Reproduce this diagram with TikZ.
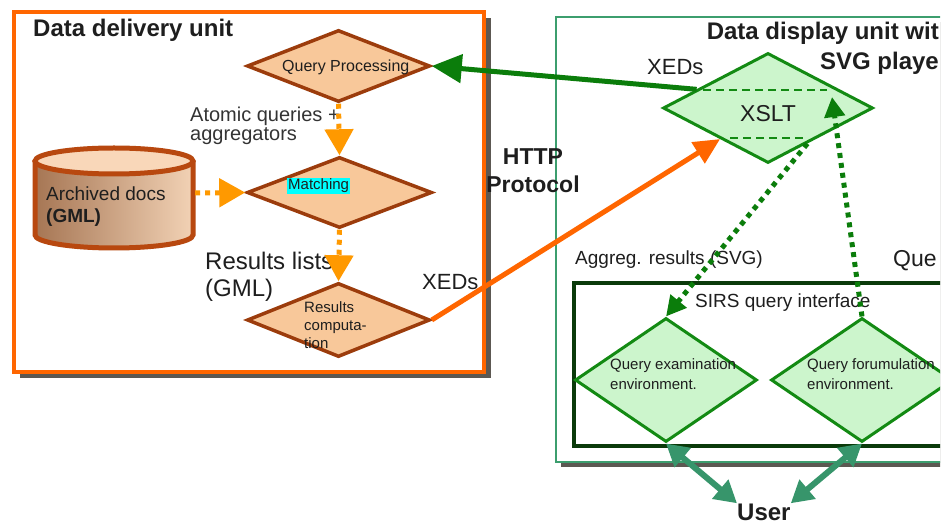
\documentclass[tikz,border=0pt]{standalone}
\usepackage{fontspec}
\setmainfont{Liberation Sans}
\usetikzlibrary{shapes.geometric,arrows.meta,calc}
\definecolor{txtc}{HTML}{1E1E1E}
\definecolor{dbrown}{HTML}{9C3C0C}
\definecolor{peach}{HTML}{F8C89A}
\definecolor{lorange}{HTML}{FF9900}
\definecolor{oline}{HTML}{FF6600}
\definecolor{shadowc}{HTML}{5C5852}
\definecolor{gbox}{HTML}{3C9E6E}
\definecolor{ibox}{HTML}{0A3A0A}
\definecolor{dgreen}{HTML}{138A13}
\definecolor{lgreen}{HTML}{CCF5CC}
\definecolor{garrow}{HTML}{0B7D0B}
\definecolor{tealc}{HTML}{37956B}
\definecolor{cylb}{HTML}{B8480F}
\definecolor{cyltop}{HTML}{F9D7B9}
\definecolor{cylL}{HTML}{A67654}
\definecolor{cylM}{HTML}{E8C3A2}
\definecolor{cylR}{HTML}{F2D2B5}
\definecolor{cyanbg}{RGB}{0,255,255}
\newcommand\fsz[1]{\fontsize{#1}{#1}\selectfont}
\begin{document}
\begin{tikzpicture}[x=1pt,y=-1pt,
  ddiam/.style={diamond, draw=dbrown, fill=peach, line width=3.5pt, inner sep=0pt},
  gdiam/.style={diamond, draw=dgreen, fill=lgreen, line width=3pt, inner sep=0pt},
  txt/.style={inner sep=0pt, anchor=base west, text=txtc},
  txte/.style={inner sep=0pt, anchor=base east, text=txtc},
  odot/.style={draw=lorange, line width=5pt, dash pattern=on 5pt off 5pt,
    -{Triangle[length=26pt,width=28pt,fill=lorange]}},
  gdot/.style={draw=garrow, line width=5pt, dash pattern=on 5pt off 5pt,
    -{Triangle[length=20pt,width=20pt]}},
  gsolid/.style={draw=garrow, line width=5pt, -{Triangle[length=30pt,width=28pt]}},
  osolid/.style={draw=oline, line width=5pt, -{Triangle[length=26pt,width=24pt]}},
  tealarr/.style={draw=tealc, line width=6pt,
    {Triangle[length=22pt,width=24pt]}-{Triangle[length=22pt,width=24pt]}},
  xdash/.style={draw=dgreen, line width=2.5pt, dash pattern=on 8pt off 5pt}]
\useasboundingbox (0,0) rectangle (948,526);
\clip (0,0) rectangle (940,526);

% ---- containers
\fill[shadowc] (20,18) rectangle (491,378);
\draw[oline, line width=3.5pt, fill=white] (14,12) rectangle (484,372);
\fill[shadowc] (561,22) rectangle (960,467);
\draw[gbox, line width=2.5pt, fill=white] (556,17) rectangle (960,462);
\draw[ibox, line width=4.5pt, fill=white] (574,283) rectangle (960,446);

% ---- titles
\node[txt, font=\bfseries\fsz{24}] (t1) at (33,37) {Data delivery unit};
\node[txte, font=\bfseries\fsz{24}] (t2a) at (939,40) {Data display unit wit};
\node[txte, font=\bfseries\fsz{24}] (t2b) at (939,70) {SVG playe};

% ---- cylinder
\shade[left color=cylL, middle color=cylM, right color=cylR]
  (35,161) -- (35,235) arc[start angle=180, end angle=0, x radius=79, y radius=13] -- (193,161) -- cycle;
\draw[cylb, line width=5pt] (35,161) -- (35,235) arc[start angle=180, end angle=0, x radius=79, y radius=13] -- (193,161);
\draw[cylb, line width=5pt, fill=cyltop] (114,161) ellipse[x radius=79, y radius=13];
\node[minimum width=162pt, minimum height=90pt, inner sep=0pt] (arch) at (114,193) {};
\node[txt, font=\fsz{19}] (a1) at (46,201) {Archived docs};
\node[txt, font=\bfseries\fsz{19}] (a2) at (46,223) {(GML)};

% ---- left diamonds
\node[ddiam, minimum width=183pt, minimum height=72pt] (qp) at (338.5,66) {};
\node[ddiam, minimum width=185pt, minimum height=71pt] (match) at (339.5,192.5) {};
\node[ddiam, minimum width=183pt, minimum height=74pt] (res) at (338.5,320) {};
\node[txt, font=\fsz{16}] (qpt) at (282,72) {Query Processing};
\node[txt, font=\fsz{15}, fill=cyanbg, inner sep=1pt] (mt) at (287,190) {Matching};
\node[txt, font=\fsz{15}] (r1) at (304,313) {Results};
\node[txt, font=\fsz{15}] (r2) at (304,331) {computa-};
\node[txt, font=\fsz{15}] (r3) at (304,349) {tion};

% ---- left labels
\node[txt, font=\fsz{20}, text=black!80] (l1) at (190,122) {Atomic queries +};
\node[txt, font=\fsz{20}, text=black!80] (l2) at (190,141) {aggregators};
\node[txt, font=\fsz{24}] (l3) at (205,270) {Results lists};
\node[txt, font=\fsz{24}] (l4) at (205,297) {(GML)};
\node[txt, font=\fsz{22}] (x1) at (422,290) {XEDs};
\node[inner sep=0pt, anchor=base, text=txtc, font=\bfseries\fsz{23}] (h1) at (533,165) {HTTP};
\node[inner sep=0pt, anchor=base, text=txtc, font=\bfseries\fsz{23}] (h2) at (533,193) {Protocol};

% ---- right side nodes
\node[gdiam, minimum width=210pt, minimum height=110pt] (xslt) at (768,108) {};
\draw[xdash] (703,90) -- (827,90);
\draw[xdash] (730,138) -- (805,138);
\node[txt, font=\fsz{23}] (xt) at (740,122) {XSLT};
\node[txt, font=\fsz{22}] (x2) at (647,75) {XEDs};

\node[txt, font=\fsz{19}] (ag) at (575,265) {Aggreg. results (SVG)};
\node[txt, font=\fsz{23}] (qu) at (893,267) {Que};
\node[txt, font=\fsz{19}] (sirs) at (695,308) {SIRS query interface};

\node[gdiam, minimum width=182pt, minimum height=124pt] (qexam) at (666,380) {};
\node[gdiam, minimum width=182pt, minimum height=124pt] (qform) at (862,380) {};
\node[txt, font=\fsz{15}] (qe1) at (610,370) {Query examination};
\node[txt, font=\fsz{15}] (qe2) at (610,390) {environment.};
\node[txt, font=\fsz{15}] (qf1) at (807,370) {Query forumulation};
\node[txt, font=\fsz{15}] (qf2) at (807,390) {environment.};

\node[txt, font=\bfseries\fsz{24}] (user) at (737,520) {User};

% ---- connectors
\draw[odot] (qp.south) -- (match.north);
\draw[odot] (arch.east) -- (match.west);
\draw[odot] (match.south) -- (res.north);
\draw[gsolid] ($(xslt.west)!0.33!(xslt.north)$) -- (qp.east);
\draw[osolid] (res.east) -- ($(xslt.west)!0.55!(xslt.south)$);
\draw[gdot] (qform.north) -- ($(xslt.center)+(64,-11)$);
\draw[gdot] ($(xslt.south)!0.37!(xslt.east)$) -- (qexam.north);
\draw[tealarr] (qexam.south) -- (user.north west);
\draw[tealarr] (qform.south) -- (user.north east);
\end{tikzpicture}
\end{document}
